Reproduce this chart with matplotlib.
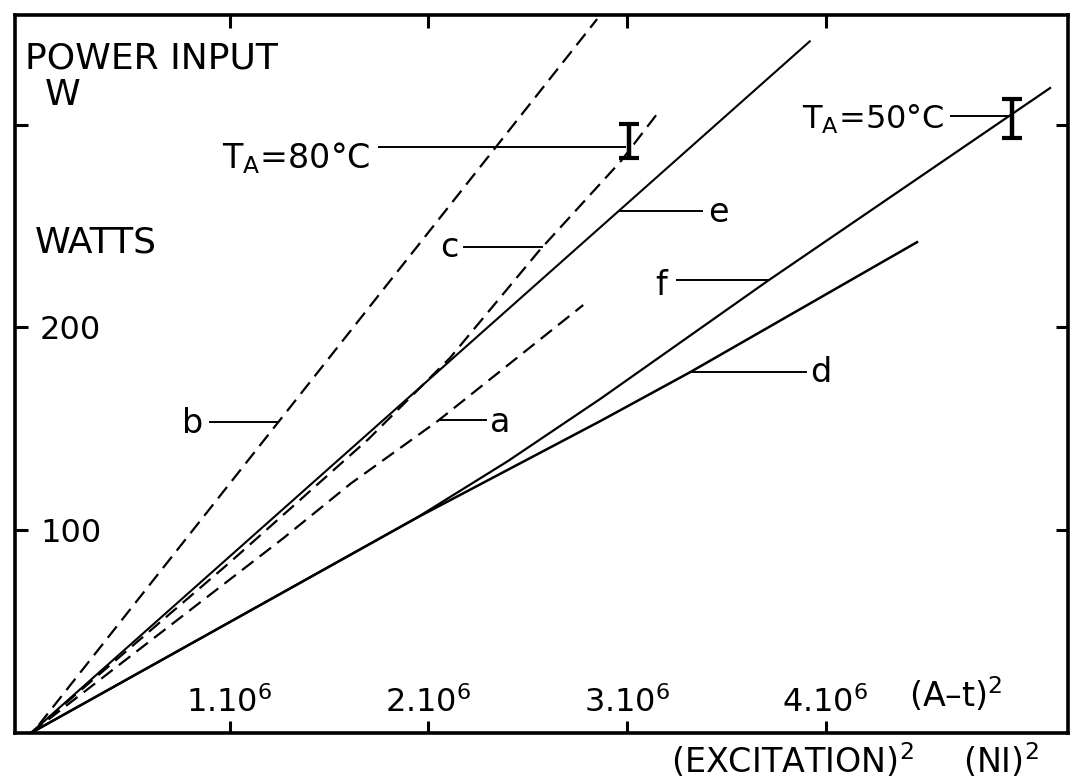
import numpy as np
import matplotlib
matplotlib.use('Agg')
import matplotlib.pyplot as plt

plt.rcParams['font.family'] = ['DejaVu Sans']
plt.rcParams['mathtext.default'] = 'regular'
plt.rcParams['font.size'] = 24

# (excitation)^2 in units of 1e6 (A-t)^2, power input in W
a_x = [0.0, 1.27, 1.61, 2.05, 2.78]
a_y = [0.0, 96, 123, 154, 211]
b_x = [0.04, 2.85]
b_y = [4, 352]
c_x = [0.0, 1.0, 1.7, 2.11, 2.56, 2.97, 3.15]
c_y = [0.0, 84, 145, 185, 238, 282, 305]
d_x = [0.0, 1.94, 2.87, 3.32, 4.46]
d_y = [0.0, 106, 154, 178, 242]
e_x = [0.0, 3.92]
e_y = [0.0, 341]
f_x = [0.0, 1.94, 2.4, 2.87, 3.71, 5.13]
f_y = [0.0, 106, 134, 165, 223, 318]

# measured points with spread (T_A = 80 degC and 50 degC)
err_x = [3.01, 4.94]
err_y = [292, 303]
err_h = [8.4, 9.6]

x_ticks = [1, 2, 3, 4]
x_tick_labels = [r'1.10$^6$', r'2.10$^6$', r'3.10$^6$', r'4.10$^6$']
y_ticks = [100, 200, 300]
y_tick_labels = ['100', '200', '']

DASH = (0, (6.5, 3.5))


def on_curve(xs, ys, y):
    """x position where a curve reaches power y"""
    return np.interp(y, ys, xs)


fig = plt.figure(figsize=(10.73, 7.8), dpi=100)
ax = fig.add_axes([15 / 1073, 1 - 733 / 780, 1053 / 1073, 718 / 780])

ax.plot(a_x, a_y, color='k', lw=1.6, ls=DASH)
ax.plot(b_x, b_y, color='k', lw=1.6, ls=DASH)
ax.plot(c_x, c_y, color='k', lw=1.6, ls=DASH)
ax.plot(d_x, d_y, color='k', lw=1.8)
ax.plot(e_x, e_y, color='k', lw=1.5)
ax.plot(f_x, f_y, color='k', lw=1.6)

ax.errorbar(err_x, err_y, yerr=err_h, fmt='none', ecolor='k',
            elinewidth=3.2, capsize=7, capthick=3)

# curve labels with short leader lines
# (curve x, curve y, leader y, free end of leader, text x, text y, side)
labels = {
    'b': (b_x, b_y, 153.2, 0.90, 0.87, 147.8, 'right'),
    'a': (a_x, a_y, 154.2, 2.29, 2.31, 148.3, 'left'),
    'c': (c_x, c_y, 239.4, 2.18, 2.15, 234.5, 'right'),
    'e': (e_x, e_y, 257.6, 3.38, 3.41, 251.7, 'left'),
    'f': (f_x, f_y, 223.2, 3.25, 3.20, 215.8, 'right'),
    'd': (d_x, d_y, 177.8, 3.90, 3.92, 172.9, 'left'),
}
for name, (xs, ys, ly, lx, tx, ty, side) in labels.items():
    cx = on_curve(xs, ys, ly)
    ax.plot([lx, cx], [ly, ly], color='k', lw=1.4)
    ax.text(tx, ty, name, ha=side, va='baseline', fontsize=24)

# temperature labels
ax.plot([1.75, err_x[0] - 0.02], [288.7, 288.7], color='k', lw=1.4)
ax.text(0.96, 278.3, r'T$_A$=80°C', ha='left', va='baseline', fontsize=24)
ax.plot([4.63, err_x[1] - 0.02], [304.4, 304.4], color='k', lw=1.4)
ax.text(3.88, 298, r'T$_A$=50°C', ha='left', va='baseline', fontsize=23)

# axis captions
ax.text(-0.03, 327.6, 'POWER INPUT', ha='left', va='baseline', fontsize=26)
ax.text(0.07, 309.4, 'W', ha='left', va='baseline', fontsize=26)
ax.text(0.02, 237, 'WATTS', ha='left', va='baseline', fontsize=26)
ax.text(4.42, 13, '(A–t)$^2$', ha='left', va='baseline', fontsize=24)
ax.text(3.22, -19.7, '(EXCITATION)$^2$', ha='left', va='baseline',
        fontsize=24, clip_on=False)
ax.text(4.69, -19.7, '(NI)$^2$', ha='left', va='baseline',
        fontsize=24, clip_on=False)

ax.set_xlim(-0.08, 5.22)
ax.set_ylim(0, 354)

ax.set_xticks(x_ticks, labels=x_tick_labels, va='baseline')
ax.set_yticks(y_ticks, labels=y_tick_labels, ha='left')
ax.tick_params(direction='in', length=9, width=2.2, top=True, right=True,
               labelsize=23)
ax.tick_params(axis='x', pad=-15)
ax.tick_params(axis='y', pad=-18)

for sp in ax.spines.values():
    sp.set_linewidth(2.6)

fig.savefig('out.png', dpi=100, facecolor='white')
